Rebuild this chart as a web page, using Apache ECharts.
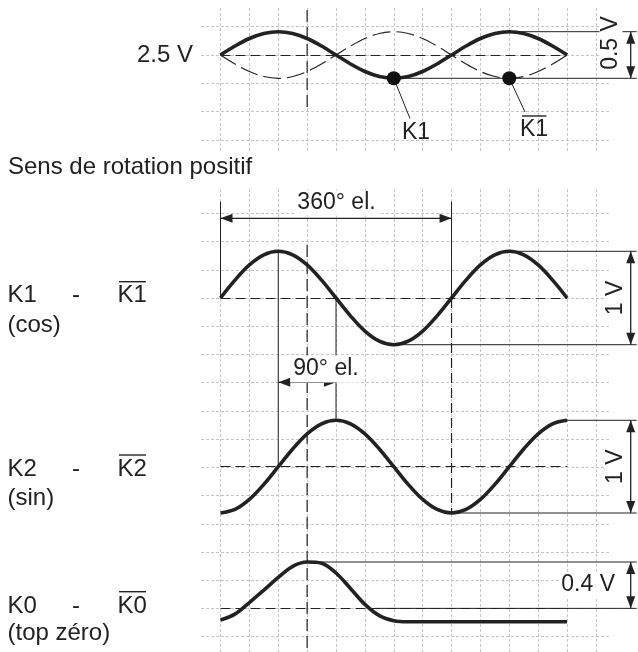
<!DOCTYPE html>
<html><head><meta charset="utf-8">
<script src="https://cdn.jsdelivr.net/npm/echarts@6/dist/echarts.min.js"></script>
<style>html,body{margin:0;padding:0;background:#fff}#c{width:638px;height:652px}</style>
</head><body><div id="c"></div>
<script>
// ---- data (x in electrical degrees, y in volts) ----
const phaseDeg = [0,22.5,45,67.5,90,112.5,135,157.5,180,202.5,225,247.5,270,292.5,315,337.5,360,382.5,405,427.5,450,472.5,495,517.5,540];
const k1Volts = [2.5,2.596,2.677,2.731,2.75,2.731,2.677,2.596,2.5,2.404,2.323,2.269,2.25,2.269,2.323,2.404,2.5,2.596,2.677,2.731,2.75,2.731,2.677,2.596,2.5];
const k1BarVolts = [2.5,2.404,2.323,2.269,2.25,2.269,2.323,2.404,2.5,2.596,2.677,2.731,2.75,2.731,2.677,2.596,2.5,2.404,2.323,2.269,2.25,2.269,2.323,2.404,2.5];
const k1Diff = [0,0.191,0.354,0.462,0.5,0.462,0.354,0.191,0,-0.191,-0.354,-0.462,-0.5,-0.462,-0.354,-0.191,0,0.191,0.354,0.462,0.5,0.462,0.354,0.191,0];
const k2Diff = [-0.5,-0.462,-0.354,-0.191,0,0.191,0.354,0.462,0.5,0.462,0.354,0.191,0,-0.191,-0.354,-0.462,-0.5,-0.462,-0.354,-0.191,0,0.191,0.354,0.462,0.5];
const k0Diff = [-0.10,-0.05,0.05,0.157,0.267,0.363,0.40,0.39,0.305,0.172,0.034,-0.063,-0.106,-0.115,-0.115,-0.115,-0.115,-0.115,-0.115,-0.115,-0.115,-0.115,-0.115,-0.115,-0.115];
const dotPoints = [[270,2.25],[450,2.25]];
const offset = 2.5;
const labelsLeft = [['K1','(cos)'],['K2','(sin)'],['K0','(top zéro)']];

const BLACK = '#222';
const FONT = '"Liberation Sans", Arial, Helvetica, sans-serif';
const gridLine = {color:'#c6c6c6', type:[3,2], width:1};
const pairs = arr => phaseDeg.map((p,i)=>[p,arr[i]]);

const grids = [
  {left:201, top:26.7, width:409, height:113.3},
  {left:220.5, top:8, width:375.44, height:144},
  {left:201, top:213.3, width:409, height:423.4},
  {left:220.5, top:189, width:375.44, height:463},
  {left:220.5, top:31.7, width:346.56, height:46.6},
  {left:220.5, top:251.3, width:346.56, height:93.4},
  {left:220.5, top:420.3, width:346.56, height:92.7},
  {left:220.5, top:562, width:346.56, height:59.7}
].map(g=>Object.assign({outerBoundsMode:'none', containLabel:false}, g));

const hid = (gi,min,max)=>({gridIndex:gi,type:'value',min,max,show:false});
const hLines = (gi,max)=>({gridIndex:gi,type:'value',min:0,max,interval:1,axisLine:{show:false},axisTick:{show:false},axisLabel:{show:false},splitLine:{show:true,lineStyle:gridLine}});
const vLines = gi=>({gridIndex:gi,type:'value',min:0,max:585,interval:45,axisLine:{show:false},axisTick:{show:false},axisLabel:{show:false},splitLine:{show:true,lineStyle:gridLine}});

const xAxis = [hid(0,0,1), vLines(1), hid(2,0,1), vLines(3), hid(4,0,540), hid(5,0,540), hid(6,0,540), hid(7,0,540)];
const yAxis = [hLines(0,4), hid(1,0,1), hLines(2,15), hid(3,0,1), hid(4,2.25,2.75), hid(5,-0.5,0.5), hid(6,-0.5,0.5), hid(7,-0.115,0.4)];

const centerMark = (y)=>({silent:true,symbol:['none','none'],label:{show:false},lineStyle:{color:BLACK,type:[10,5],width:1.2,opacity:1},data:[[{coord:[0,y]},{coord:[540,y]}]]});
const thick = {color:BLACK,width:3.6};
const lineSeries = (gi,data,style,mark)=>({type:'line',xAxisIndex:gi,yAxisIndex:gi,data:pairs(data),symbol:'none',smooth:0.35,clip:false,lineStyle:style,markLine:mark,z:3});

const option = {
  animation:false,
  grid:grids, xAxis, yAxis,
  series:[
    lineSeries(4,k1BarVolts,{color:BLACK,width:1.2,type:[18,6]}),
    lineSeries(4,k1Volts,thick,centerMark(offset)),
    {type:'scatter',xAxisIndex:4,yAxisIndex:4,data:dotPoints,symbol:'circle',symbolSize:14,itemStyle:{color:'#111',opacity:1},clip:false,z:6},
    lineSeries(5,k1Diff,thick,centerMark(0)),
    lineSeries(6,k2Diff,thick,centerMark(0)),
    lineSeries(7,k0Diff,thick,centerMark(0))
  ]
};
const chart = echarts.init(document.getElementById('c'));
chart.setOption(option);

// ---- annotations ----
const px = (g,x,y)=>chart.convertToPixel({gridIndex:g},[x,y]);
const G = [];
function line(x1,y1,x2,y2,o={}){G.push({type:'line',z:5,silent:true,shape:{x1,y1,x2,y2},style:{stroke:BLACK,lineWidth:o.w||1,lineDash:o.dash||null}});}
function head(x,y,d){const L=12,W=4.5;let p;
  if(d==='l')p=[[x,y],[x+L,y-W],[x+L,y+W]];
  else if(d==='r')p=[[x,y],[x-L,y-W],[x-L,y+W]];
  else if(d==='u')p=[[x,y],[x-W,y+L],[x+W,y+L]];
  else p=[[x,y],[x-W,y-L],[x+W,y-L]];
  G.push({type:'polygon',z:6,silent:true,shape:{points:p},style:{fill:BLACK}});}
function dimV(x,y1,y2){line(x,y1,x,y2,{w:1.3});head(x,y1,'u');head(x,y2,'d');}
function dimH(y,x1,x2){line(x1,y,x2,y,{w:1.3});head(x1,y,'l');head(x2,y,'r');}
function text(s,x,y,o={}){const st={text:s,fill:BLACK,font:(o.fs||23)+'px '+FONT,align:o.align||'left',verticalAlign:'middle'};
  if(o.bg){st.backgroundColor='#fff';st.padding=o.pad||[1,3];}
  G.push({type:'text',z:10,silent:true,x,y,rotation:o.rot?Math.PI/2:0,style:st});}
function over(x1,x2,y){line(x1,y,x2,y,{w:1.4});}

const T=4,K1=5,K2=6,K0=7,RX=636.7,AX=630.7;
// top panel
const x135 = px(T,135,offset)[0];
line(x135,10,x135,109,{dash:[12,5],w:1.2});
const tPk=px(T,450,2.75), tTr=px(T,270,2.25), tTr2=px(T,450,2.25);
line(tPk[0],tPk[1],RX,tPk[1]);
line(tTr[0],tTr[1],RX,tTr[1]);
dimV(AX,tPk[1],tTr[1]);
text('0.5 V',611,43,{rot:true,bg:true,align:'center',pad:[0,2]});
line(tTr[0],tTr[1],410,118.5);
line(tTr2[0],tTr2[1],525,112);
text('K1',416,133,{align:'center'});
text('K1',534,130,{align:'center'}); over(522,546.5,116);
text('2.5 V',193,55.5,{align:'right',fs:24});
text('Sens de rotation positif',8,167.7,{fs:24});

// K1 / K2 dimensions
const c0=px(K1,0,0), c360=px(K1,360,0);
line(c0[0],201.7,c0[0],c0[1]);
line(c360[0],201.7,c360[0],c360[1]);
dimH(218.3,c0[0],c360[0]);
text('360° el.',336.5,203,{align:'center',bg:true,pad:[1,3]});
const k2tr=px(K2,360,-0.5);
line(c360[0],c360[1],c360[0],k2tr[1],{dash:[10,5],w:1.2});
line(x135,245,x135,652,{dash:[12,5],w:1.2});
const pk90=px(K1,90,0.5), k2c90=px(K2,90,0);
line(pk90[0],pk90[1],pk90[0],k2c90[1]);
const c180=px(K1,180,0), k2pk180=px(K2,180,0.5);
line(c180[0],c180[1],c180[0],k2pk180[1]);
dimH(382.3,pk90[0],c180[0]);
text('90° el.',326,369,{align:'center',bg:true,pad:[2,3]});

const pk450=px(K1,450,0.5), tr270=px(K1,270,-0.5);
line(pk450[0],pk450[1],RX,pk450[1]);
line(tr270[0],tr270[1],RX,tr270[1]);
dimV(AX,pk450[1],tr270[1]);
text('1 V',616,(pk450[1]+tr270[1])/2,{rot:true,bg:true,align:'center',pad:[0,1]});

const pk540=px(K2,540,0.5);
line(pk540[0],pk540[1],RX,pk540[1]);
line(k2tr[0],k2tr[1],RX,k2tr[1]);
dimV(AX,pk540[1],k2tr[1]);
text('1 V',616,(pk540[1]+k2tr[1])/2,{rot:true,bg:true,align:'center',pad:[0,1]});

const k0pk=px(K0,150,0.4), k0b=px(K0,240,0);
line(k0pk[0],k0pk[1],RX,k0pk[1]);
line(k0b[0],k0b[1],RX,k0b[1]);
dimV(AX,k0pk[1],k0b[1]);
text('0.4 V',617,585,{align:'right',bg:true,pad:[1,2]});

// left labels
const rowY = [[295,325],[469,498],[606,633]];
const overY = [281.7,455,591.7];
labelsLeft.forEach((r,i)=>{
  text(r[0],7.5,rowY[i][0],{fs:24});
  text('-',72,rowY[i][0],{fs:24});
  text(r[0],117.5,rowY[i][0],{fs:24});
  over(119,146,overY[i]);
  text(r[1],7.5,rowY[i][1],{fs:24});
});

chart.setOption({graphic:{elements:G}});
</script></body></html>
